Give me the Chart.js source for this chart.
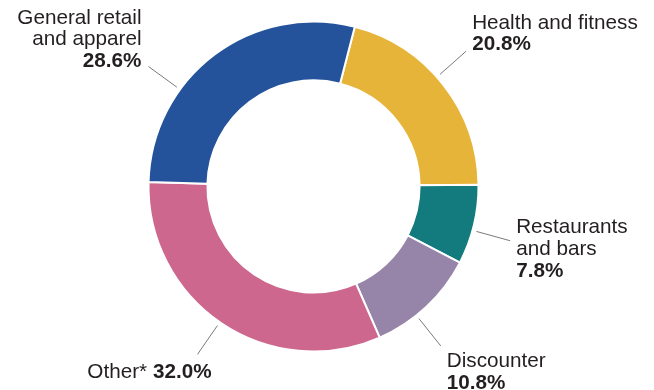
<!DOCTYPE html>
<html>
<head>
<meta charset="utf-8">
<script src="https://cdn.jsdelivr.net/npm/chart.js@4/dist/chart.umd.min.js"></script>
<style>
  html, body { margin: 0; padding: 0; background: #fff; }
  #wrap { width: 654px; height: 390px; }
</style>
</head>
<body>
<div id="wrap"><canvas id="myChart" width="654" height="390"></canvas></div>
<script>
// Segments, clockwise from the top
const categories = ['Health and fitness', 'Restaurants and bars', 'Discounter', 'Other*', 'General retail and apparel'];
const shares = [20.8, 7.8, 10.8, 32.0, 28.6];
const labelLines = [
    ['Health and fitness'],
    ['Restaurants', 'and bars'],
    ['Discounter'],
    ['Other*'],
    ['General retail', 'and apparel']
];
const colors = ['#e6b438', '#137a7e', '#9685a9', '#cd678e', '#24539b'];

// Label placement relative to the end of each leader line
// shift: degrees added to the slice mid-angle, inline: value on same line as the name
const labelPlace = [
    { shift: -3.5, align: 'left',  dx: 6,   dy: -22.5 },
    { shift: 2,    align: 'left',  dx: 6,   dy: -7.4 },
    { shift: 4.5,  align: 'left',  dx: 6,   dy: 21 },
    { shift: 0.7,  align: 'right', dx: 14,  dy: 23.4, inline: true },
    { shift: -17,  align: 'right', dx: -7,  dy: -43 }
];

const FONT = '"Liberation Sans", Arial, Helvetica, sans-serif';
const FONT_SIZE = 20.7;
const LINE_H = 21.6;

const calloutPlugin = {
    id: 'callouts',
    afterDraw(chart) {
        const ctx = chart.ctx;
        const arcs = chart.getDatasetMeta(0).data;
        arcs.forEach((arc, i) => {
            const p = labelPlace[i];
            const mid = (arc.startAngle + arc.endAngle) / 2 + p.shift * Math.PI / 180;
            const r0 = arc.outerRadius + 4;
            const r1 = arc.outerRadius + 39;
            const x0 = arc.x + Math.cos(mid) * r0, y0 = arc.y + Math.sin(mid) * r0;
            const x1 = arc.x + Math.cos(mid) * r1, y1 = arc.y + Math.sin(mid) * r1;

            ctx.save();
            ctx.strokeStyle = '#7a7a7a';
            ctx.lineWidth = 1;
            ctx.beginPath();
            ctx.moveTo(x0, y0);
            ctx.lineTo(x1, y1);
            ctx.stroke();

            // build lines as lists of [text, bold] parts
            const pct = shares[i].toFixed(1) + '%';
            const lines = labelLines[i].map(t => [[t, false]]);
            if (p.inline) {
                lines[lines.length - 1].push([' ' + pct, true]);
            } else {
                lines.push([[pct, true]]);
            }

            ctx.fillStyle = '#231f20';
            ctx.textBaseline = 'alphabetic';
            ctx.textAlign = 'left';
            const ax = x1 + p.dx;
            let by = y1 + p.dy;
            lines.forEach(parts => {
                let w = 0;
                parts.forEach(([t, b]) => {
                    ctx.font = (b ? 'bold ' : '') + FONT_SIZE + 'px ' + FONT;
                    w += ctx.measureText(t).width;
                });
                let x = p.align === 'right' ? ax - w : ax;
                parts.forEach(([t, b]) => {
                    ctx.font = (b ? 'bold ' : '') + FONT_SIZE + 'px ' + FONT;
                    ctx.fillText(t, x, by);
                    x += ctx.measureText(t).width;
                });
                by += LINE_H;
            });
            ctx.restore();
        });
    }
};

const ctx = document.getElementById('myChart').getContext('2d');
const myChart = new Chart(ctx, {
    type: 'doughnut',
    data: {
        labels: categories,
        datasets: [{
            data: shares,
            backgroundColor: colors,
            borderColor: '#ffffff',
            borderWidth: 2,
            hoverOffset: 0
        }]
    },
    options: {
        responsive: false,
        animation: false,
        rotation: 14.5,
        radius: 165,
        cutout: '64.3%',
        layout: {
            padding: { left: 130, right: 157, top: 10, bottom: 27 }
        },
        plugins: {
            legend: { display: false },
            tooltip: { enabled: false }
        }
    },
    plugins: [calloutPlugin]
});
</script>
</body>
</html>
